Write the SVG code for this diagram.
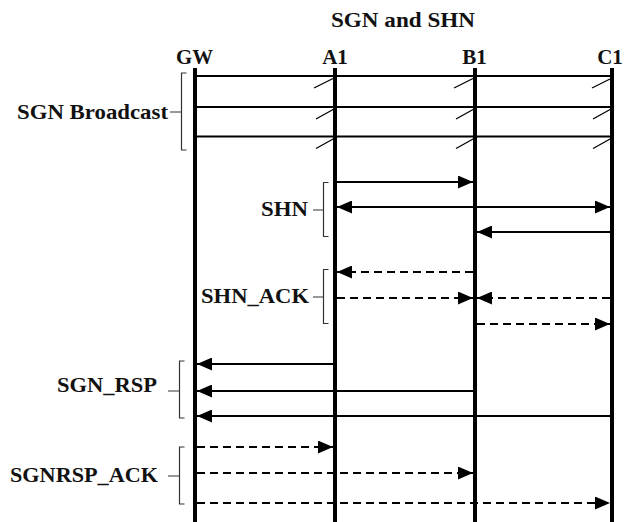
<svg xmlns="http://www.w3.org/2000/svg" width="627" height="522" viewBox="0 0 627 522">
<style>
text{font-family:"Liberation Serif","DejaVu Serif",serif;font-weight:bold;fill:#111;}
.t{font-size:21px;}
.h{font-size:21px;text-anchor:middle;}
.lab{font-size:21px;text-anchor:end;}
.life{stroke:#000;stroke-width:4;fill:none;}
.msg{stroke:#000;stroke-width:2;fill:none;}
.dash{stroke-dasharray:8 5;}
.slash{stroke:#000;stroke-width:1.3;fill:none;}
.br{stroke:#333;stroke-width:1.2;fill:none;}
</style>
<defs>
<marker id="ah" markerUnits="userSpaceOnUse" markerWidth="15" markerHeight="13" viewBox="0 0 15 13" refX="15" refY="6.5" orient="auto-start-reverse">
<path d="M0,0 L15,6.5 L0,13 z" fill="#000" stroke="none"/>
</marker>
</defs>
<text class="t" x="403" y="27" text-anchor="middle" textLength="144" lengthAdjust="spacingAndGlyphs">SGN and SHN</text>
<g id="GW"><text class="h" x="194.5" y="64" textLength="37" lengthAdjust="spacingAndGlyphs">GW</text><line class="life" x1="195" y1="68" x2="195" y2="522"/></g>
<g id="A1"><text class="h" x="335" y="64">A1</text><line class="life" x1="335" y1="68" x2="335" y2="522"/></g>
<g id="B1"><text class="h" x="474.5" y="64">B1</text><line class="life" x1="475" y1="68" x2="475" y2="522"/></g>
<g id="C1"><text class="h" x="610" y="64">C1</text><line class="life" x1="612" y1="68" x2="612" y2="522"/></g>
<g id="labels">
<text class="lab" x="168" y="119" textLength="151" lengthAdjust="spacingAndGlyphs">SGN Broadcast</text>
<text class="lab" x="308" y="216" textLength="47" lengthAdjust="spacingAndGlyphs">SHN</text>
<text class="lab" x="309" y="303" textLength="108" lengthAdjust="spacingAndGlyphs">SHN_ACK</text>
<text class="lab" x="157" y="392" textLength="100" lengthAdjust="spacingAndGlyphs">SGN_RSP</text>
<text class="lab" x="158" y="482" textLength="148" lengthAdjust="spacingAndGlyphs">SGNRSP_ACK</text>
</g>
<g id="brackets">
<path class="br" d="M186.5,73 H181.5 V150 H186.5 M181.5,112 H170"/>
<path class="br" d="M328.5,182.5 H323.5 V236.5 H328.5 M323.5,210 H313"/>
<path class="br" d="M328.5,269.5 H323.5 V323.5 H328.5 M323.5,297 H313"/>
<path class="br" d="M184.5,361 H179.5 V418 H184.5 M179.5,391 H168"/>
<path class="br" d="M184.5,447 H179.5 V504 H184.5 M179.5,476 H168"/>
</g>
<g id="connectors">
<line class="msg" x1="195" y1="76" x2="612" y2="76"/>
<line class="msg" x1="195" y1="107" x2="612" y2="107"/>
<line class="msg" x1="195" y1="136.5" x2="612" y2="136.5"/>
<path class="slash" d="M314,88 L333,78.5 M454,88 L473,78.5 M592,88 L611,78.5 M316,119 L334,109 M456,119 L474,109 M593,119 L611,109 M316,148.5 L334,138.5 M456,148.5 L474,138.5 M593,148.5 L611,138.5"/>
<line class="msg" x1="337" y1="182" x2="473" y2="182" marker-end="url(#ah)"/>
<line class="msg" x1="337" y1="207" x2="610" y2="207" marker-start="url(#ah)" marker-end="url(#ah)"/>
<line class="msg" x1="610" y1="232" x2="477" y2="232" marker-end="url(#ah)"/>
<line class="msg dash" x1="473" y1="272" x2="337" y2="272" marker-end="url(#ah)"/>
<line class="msg dash" x1="337" y1="298" x2="473" y2="298" marker-end="url(#ah)"/>
<line class="msg dash" x1="610" y1="298" x2="477" y2="298" marker-end="url(#ah)"/>
<line class="msg dash" x1="477" y1="324" x2="610" y2="324" marker-end="url(#ah)"/>
<line class="msg" x1="333" y1="364" x2="197" y2="364" marker-end="url(#ah)"/>
<line class="msg" x1="473" y1="391" x2="197" y2="391" marker-end="url(#ah)"/>
<line class="msg" x1="610" y1="416" x2="197" y2="416" marker-end="url(#ah)"/>
<line class="msg dash" x1="197" y1="447" x2="333" y2="447" marker-end="url(#ah)"/>
<line class="msg dash" x1="197" y1="473" x2="473" y2="473" marker-end="url(#ah)"/>
<line class="msg dash" x1="197" y1="503" x2="610" y2="503" marker-end="url(#ah)"/>
</g>
</svg>
